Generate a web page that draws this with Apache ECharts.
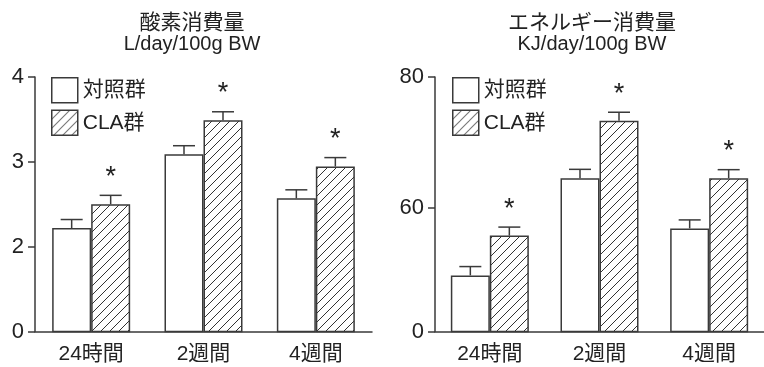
<!DOCTYPE html>
<html>
<head>
<meta charset="utf-8">
<script src="https://cdn.jsdelivr.net/npm/echarts@6/dist/echarts.min.js"></script>
<style>
  html, body { margin: 0; padding: 0; background: #fff; }
  #chart { width: 764px; height: 367px; }
</style>
</head>
<body>
<div id="chart"></div>
<script>
// Groups and periods
const categories = ['24時間', '2週間', '4週間'];
const seriesNames = ['対照群', 'CLA群'];

// 酸素消費量 (L/day/100g BW)
const o2Control = [2.22, 3.09, 2.57];
const o2ControlErr = [0.10, 0.10, 0.10];
const o2Cla = [2.50, 3.49, 2.945];
const o2ClaErr = [0.105, 0.10, 0.105];
const o2Sig = [1, 1, 1];
// broken axis: the bottom of the axis is labelled 0
const o2AxisMin = 1;
const o2AxisMax = 4;
const o2TickValues = [1, 2, 3, 4];
const o2TickLabels = ['0', '2', '3', '4'];

// エネルギー消費量 (KJ/day/100g BW)
const enControl = [49.6, 64.5, 56.8];
const enControlErr = [1.35, 1.35, 1.3];
const enCla = [55.7, 73.3, 64.5];
const enClaErr = [1.3, 1.3, 1.3];
const enSig = [1, 1, 1];
const enAxisMin = 41;
const enAxisMax = 80;
const enTickValues = [41, 60, 80];
const enTickLabels = ['0', '60', '80'];

const INK = '#3a3a3a';
const TEXT = '#222';
const FONT = '"Liberation Sans", "Noto Sans CJK JP", Arial, sans-serif';
const BAR_W = 39;
const CAP = 11;

// diagonal hatch fill for the CLA bars
function hatchPattern() {
  const s = 9;
  const c = document.createElement('canvas');
  c.width = s; c.height = s;
  const g = c.getContext('2d');
  g.fillStyle = '#fff';
  g.fillRect(0, 0, s, s);
  g.strokeStyle = '#333';
  g.lineWidth = 1;
  g.beginPath();
  g.moveTo(0, s); g.lineTo(s, 0);
  g.moveTo(-1, 1); g.lineTo(1, -1);
  g.moveTo(s - 1, s + 1); g.lineTo(s + 1, s - 1);
  g.stroke();
  return { image: c, repeat: 'repeat' };
}
const hatch = hatchPattern();

function labelMap(values, labels) {
  const m = {};
  values.forEach((v, i) => { m[v] = labels[i]; });
  return v => (m[v] !== undefined ? m[v] : '');
}

// error bar (upper whisker) + significance mark
function errRender(params, api) {
  const cat = api.value(0), val = api.value(1), err = api.value(2);
  const side = api.value(3), sig = api.value(4);
  const base = api.coord([cat, val]);
  const top = api.coord([cat, val + err]);
  const x = base[0] + side * BAR_W / 2;
  const children = [
    { type: 'line', shape: { x1: x, y1: base[1], x2: x, y2: top[1] }, style: { stroke: INK, lineWidth: 1.5 } },
    { type: 'line', shape: { x1: x - CAP, y1: top[1], x2: x + CAP, y2: top[1] }, style: { stroke: INK, lineWidth: 1.5 } }
  ];
  if (sig) {
    children.push({
      type: 'text', x: x, y: top[1] - 18,
      style: { text: '*', fontSize: 27, fontFamily: FONT, align: 'center', verticalAlign: 'middle', fill: TEXT }
    });
  }
  return { type: 'group', children: children };
}

function errData(control, controlErr, cla, claErr, sig) {
  const d = [];
  categories.forEach((c, i) => {
    d.push([i, control[i], controlErr[i], -1, 0]);
    d.push([i, cla[i], claErr[i], 1, sig[i]]);
  });
  return d;
}

function yAxis(gridIndex, min, max, tickValues, tickLabels) {
  return {
    type: 'value', gridIndex: gridIndex, min: min, max: max,
    splitLine: { show: false },
    axisLine: { show: true, lineStyle: { color: INK, width: 1.5 } },
    axisTick: { show: true, length: 7, customValues: tickValues, lineStyle: { color: INK, width: 1.5 } },
    axisLabel: { customValues: tickValues, formatter: labelMap(tickValues, tickLabels),
      fontSize: 22, fontFamily: FONT, color: TEXT, margin: 11 }
  };
}

function xAxis(gridIndex) {
  return {
    type: 'category', gridIndex: gridIndex, data: categories,
    axisLine: { show: true, onZero: false, lineStyle: { color: INK, width: 1.5 } },
    axisTick: { show: false },
    axisLabel: { fontSize: 21, fontFamily: FONT, color: TEXT, margin: 12 }
  };
}

function barSeries(axisIndex, name, values, fill) {
  return {
    type: 'bar', name: name, xAxisIndex: axisIndex, yAxisIndex: axisIndex,
    data: values, barWidth: BAR_W, barGap: '0%',
    itemStyle: { color: fill, borderColor: INK, borderWidth: 1.5 },
    emphasis: { disabled: true }, animation: false
  };
}

function legend(left) {
  return {
    left: left, top: 77, orient: 'vertical', icon: 'rect',
    itemWidth: 26, itemHeight: 25, itemGap: 6, padding: 0,
    data: seriesNames,
    itemStyle: { borderColor: INK, borderWidth: 1.5 },
    textStyle: { fontSize: 21, fontFamily: FONT, color: TEXT }
  };
}

function title(left, text, sub) {
  return {
    text: text, subtext: sub, left: left, top: 12, textAlign: 'center', itemGap: 0, padding: 0,
    textStyle: { fontSize: 21, fontWeight: 'normal', fontFamily: FONT, color: TEXT, lineHeight: 22 },
    subtextStyle: { fontSize: 20, fontFamily: FONT, color: TEXT, lineHeight: 20 }
  };
}

const chart = echarts.init(document.getElementById('chart'));
chart.setOption({
  animation: false,
  title: [
    title(192, '酸素消費量', 'L/day/100g BW'),
    title(592, 'エネルギー消費量', 'KJ/day/100g BW')
  ],
  legend: [legend(51), legend(452)],
  grid: [
    { left: 35, top: 77, width: 337, height: 254.5 },
    { left: 435, top: 77, width: 335, height: 254.5 }
  ],
  xAxis: [xAxis(0), xAxis(1)],
  yAxis: [
    yAxis(0, o2AxisMin, o2AxisMax, o2TickValues, o2TickLabels),
    yAxis(1, enAxisMin, enAxisMax, enTickValues, enTickLabels)
  ],
  series: [
    barSeries(0, seriesNames[0], o2Control, '#fff'),
    barSeries(0, seriesNames[1], o2Cla, hatch),
    barSeries(1, seriesNames[0], enControl, '#fff'),
    barSeries(1, seriesNames[1], enCla, hatch),
    { type: 'custom', xAxisIndex: 0, yAxisIndex: 0, z: 3, silent: true,
      renderItem: errRender, data: errData(o2Control, o2ControlErr, o2Cla, o2ClaErr, o2Sig) },
    { type: 'custom', xAxisIndex: 1, yAxisIndex: 1, z: 3, silent: true,
      renderItem: errRender, data: errData(enControl, enControlErr, enCla, enClaErr, enSig) }
  ]
});
</script>
</body>
</html>
